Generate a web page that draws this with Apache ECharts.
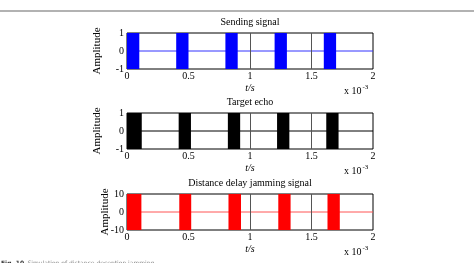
<!DOCTYPE html>
<html><head><meta charset="utf-8">
<script src="https://cdn.jsdelivr.net/npm/echarts@6/dist/echarts.min.js"></script>
<style>html,body{margin:0;padding:0;background:#fff}#c{width:474px;height:263px}</style>
</head><body><div id="c"></div>
<script>
var titles = ['Sending signal', 'Target echo', 'Distance delay jamming signal'];
var sendStarts = [0, 0.4, 0.8, 1.2, 1.6];
var sendEnds = [0.1, 0.5, 0.9, 1.3, 1.7];
var echoStarts = [0, 0.42, 0.82, 1.22, 1.62];
var echoEnds = [0.12, 0.52, 0.92, 1.32, 1.72];
var jamStarts = [0, 0.425, 0.825, 1.23, 1.63];
var jamEnds = [0.117, 0.522, 0.927, 1.33, 1.73];
var amplitudes = [1, 1, 10];
var xTicks = [0, 0.5, 1, 1.5, 2];
var markerLines = [1, 1.5];

var pulseSets = [[sendStarts, sendEnds], [echoStarts, echoEnds], [jamStarts, jamEnds]];
var colors = ['#0000ff', '#000000', '#ff0000'];
var lineColors = ['#3333ff', '#000000', '#ff5555'];
var tops = [33, 113, 194];
var ampX = [97, 97, 105];
var font = 'Liberation Serif';

var grids = [], xAxes = [], yAxes = [], series = [], graphics = [];
for (var i = 0; i < 3; i++) {
  grids.push({left: 127, right: 101, top: tops[i], height: 36, show: true, borderColor: '#000', borderWidth: 1, backgroundColor: '#fff'});
  xAxes.push({gridIndex: i, type: 'value', min: 0, max: 2, interval: 0.5,
    axisLine: {show: false}, axisTick: {show: false}, splitLine: {show: false},
    axisLabel: {color: '#000', fontFamily: font, fontSize: 10, margin: 2},
    name: 't/s', nameLocation: 'middle', nameGap: 14,
    nameTextStyle: {color: '#000', fontFamily: font, fontSize: 10, fontStyle: 'italic'}});
  var A = amplitudes[i];
  yAxes.push({gridIndex: i, type: 'value', min: -A, max: A, interval: A,
    axisLine: {show: false}, axisTick: {show: false}, splitLine: {show: false},
    axisLabel: {color: '#000', fontFamily: font, fontSize: 10, margin: 3}});
  graphics.push({type: 'text', x: 250, y: tops[i] - 16,
    style: {text: titles[i], align: 'center', verticalAlign: 'top', fontFamily: font, fontSize: 10, fill: '#000'}});
  graphics.push({type: 'text', x: ampX[i], y: tops[i] + 18, rotation: Math.PI / 2,
    style: {text: 'Amplitude', align: 'center', verticalAlign: 'middle', fontFamily: font, fontSize: 11, fill: '#000'}});
  series.push({type: 'line', xAxisIndex: i, yAxisIndex: i, data: [[0, 0], [2, 0]],
    symbol: 'none', silent: true, lineStyle: {color: lineColors[i], width: 1}, z: 2,
    markLine: {symbol: 'none', silent: true, label: {show: false},
      lineStyle: {color: '#555', width: 1, type: 'solid'},
      data: markerLines.map(function (v) { return {xAxis: v}; })}});
  var st = pulseSets[i][0], en = pulseSets[i][1];
  var d = st.map(function (s, k) { return [s, en[k], A]; });
  (function (col) {
    series.push({type: 'custom', xAxisIndex: i, yAxisIndex: i, data: d, z: 3, silent: true,
      renderItem: function (params, api) {
        var p1 = api.coord([api.value(0), api.value(2)]);
        var p2 = api.coord([api.value(1), -api.value(2)]);
        return {type: 'rect', shape: {x: p1[0], y: p1[1], width: p2[0] - p1[0], height: p2[1] - p1[1]},
          style: {fill: col}};
      }});
  })(colors[i]);
  graphics.push({type: 'text', left: 344, top: tops[i] + 51,
    style: {text: '{a|x 10}{b|-3}', rich: {a: {fontFamily: font, fontSize: 10, fill: '#000'}, b: {fontFamily: font, fontSize: 7, fill: '#000', verticalAlign: 'top', padding: [0, 0, 8, 1]}}}});
}
graphics.push({type: 'line', shape: {x1: 0, y1: 11, x2: 474, y2: 11}, style: {stroke: '#999', lineWidth: 1.5}});
graphics.push({type: 'text', left: 1, top: 257,
  style: {text: '{a|Fig. 10} {b|Simulation of distance deception jamming}',
    rich: {a: {fontFamily: 'DejaVu Sans', fontSize: 6, fontWeight: 'bold', fill: '#333'}, b: {fontFamily: 'DejaVu Sans', fontSize: 6, fill: '#888'}}}});

var chart = echarts.init(document.getElementById('c'), null, {renderer: 'canvas'});
chart.setOption({animation: false, grid: grids, xAxis: xAxes, yAxis: yAxes, series: series, graphic: graphics});
</script></body></html>
